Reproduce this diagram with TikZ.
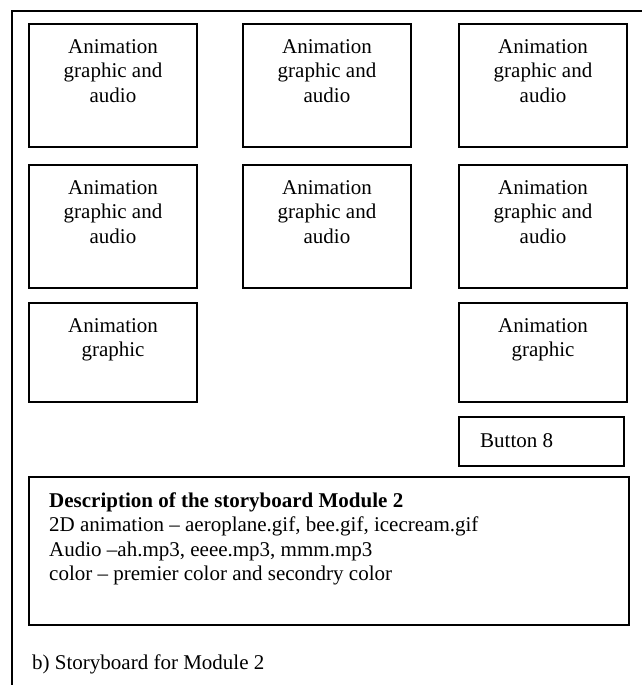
\documentclass[tikz,border=0pt]{standalone}
\usepackage{fontspec}
\setmainfont{Liberation Serif}
\usetikzlibrary{positioning}

\begin{document}
\begin{tikzpicture}[line join=miter,x=1pt,y=-1pt,
		frame/.style={draw,line width=1.6pt,inner sep=0pt},
		panel/.style={frame,minimum width=168pt,minimum height=123pt},
		shortpanel/.style={frame,minimum width=168pt,minimum height=99pt},
		paneltext/.style={align=center,inner sep=0pt,font=\fontsize{21}{24.5}\selectfont}]
	\useasboundingbox (0,0) rectangle (642,685);
	\draw [line width=1.6pt] (12,685)-- (12,11)-- (642,11);
	% first row
	\node[panel] (p11) at (113,85.5) {};
	\node[paneltext,below=15.7pt of p11.north] (t11) {Animation\\graphic and\\audio};
	\node[panel] (p12) at (327,85.5) {};
	\node[paneltext,below=15.7pt of p12.north] (t12) {Animation\\graphic and\\audio};
	\node[panel] (p13) at (543,85.5) {};
	\node[paneltext,below=15.7pt of p13.north] (t13) {Animation\\graphic and\\audio};
	% second row
	\node[panel] (p21) at (113,226.5) {};
	\node[paneltext,below=15.7pt of p21.north] (t21) {Animation\\graphic and\\audio};
	\node[panel] (p22) at (327,226.5) {};
	\node[paneltext,below=15.7pt of p22.north] (t22) {Animation\\graphic and\\audio};
	\node[panel] (p23) at (543,226.5) {};
	\node[paneltext,below=15.7pt of p23.north] (t23) {Animation\\graphic and\\audio};
	% third row
	\node[shortpanel] (p31) at (113,352.5) {};
	\node[paneltext,below=15.7pt of p31.north] (t31) {Animation\\graphic};
	\node[shortpanel] (p33) at (543,352.5) {};
	\node[paneltext,below=15.7pt of p33.north] (t33) {Animation\\graphic};
	\node[frame,minimum width=165pt,minimum height=49pt] (btn) at (541.5,441.5) {};
	\node[paneltext,anchor=base west] (btntext) at (480,447) {Button 8};
	% description
	\node[frame,minimum width=600pt,minimum height=148pt] (desc) at (329,551) {};
	\node[paneltext,align=left,anchor=north west] (desctext) at (49,492.5) {\textbf{Description of the storyboard Module 2}\\2D animation – aeroplane.gif, bee.gif, icecream.gif\\Audio –ah.mp3, eeee.mp3, mmm.mp3\\color – premier color and secondry color};
	\node[paneltext,anchor=base west] (caption) at (32,669) {b) Storyboard for Module 2};
\end{tikzpicture}
\end{document}
